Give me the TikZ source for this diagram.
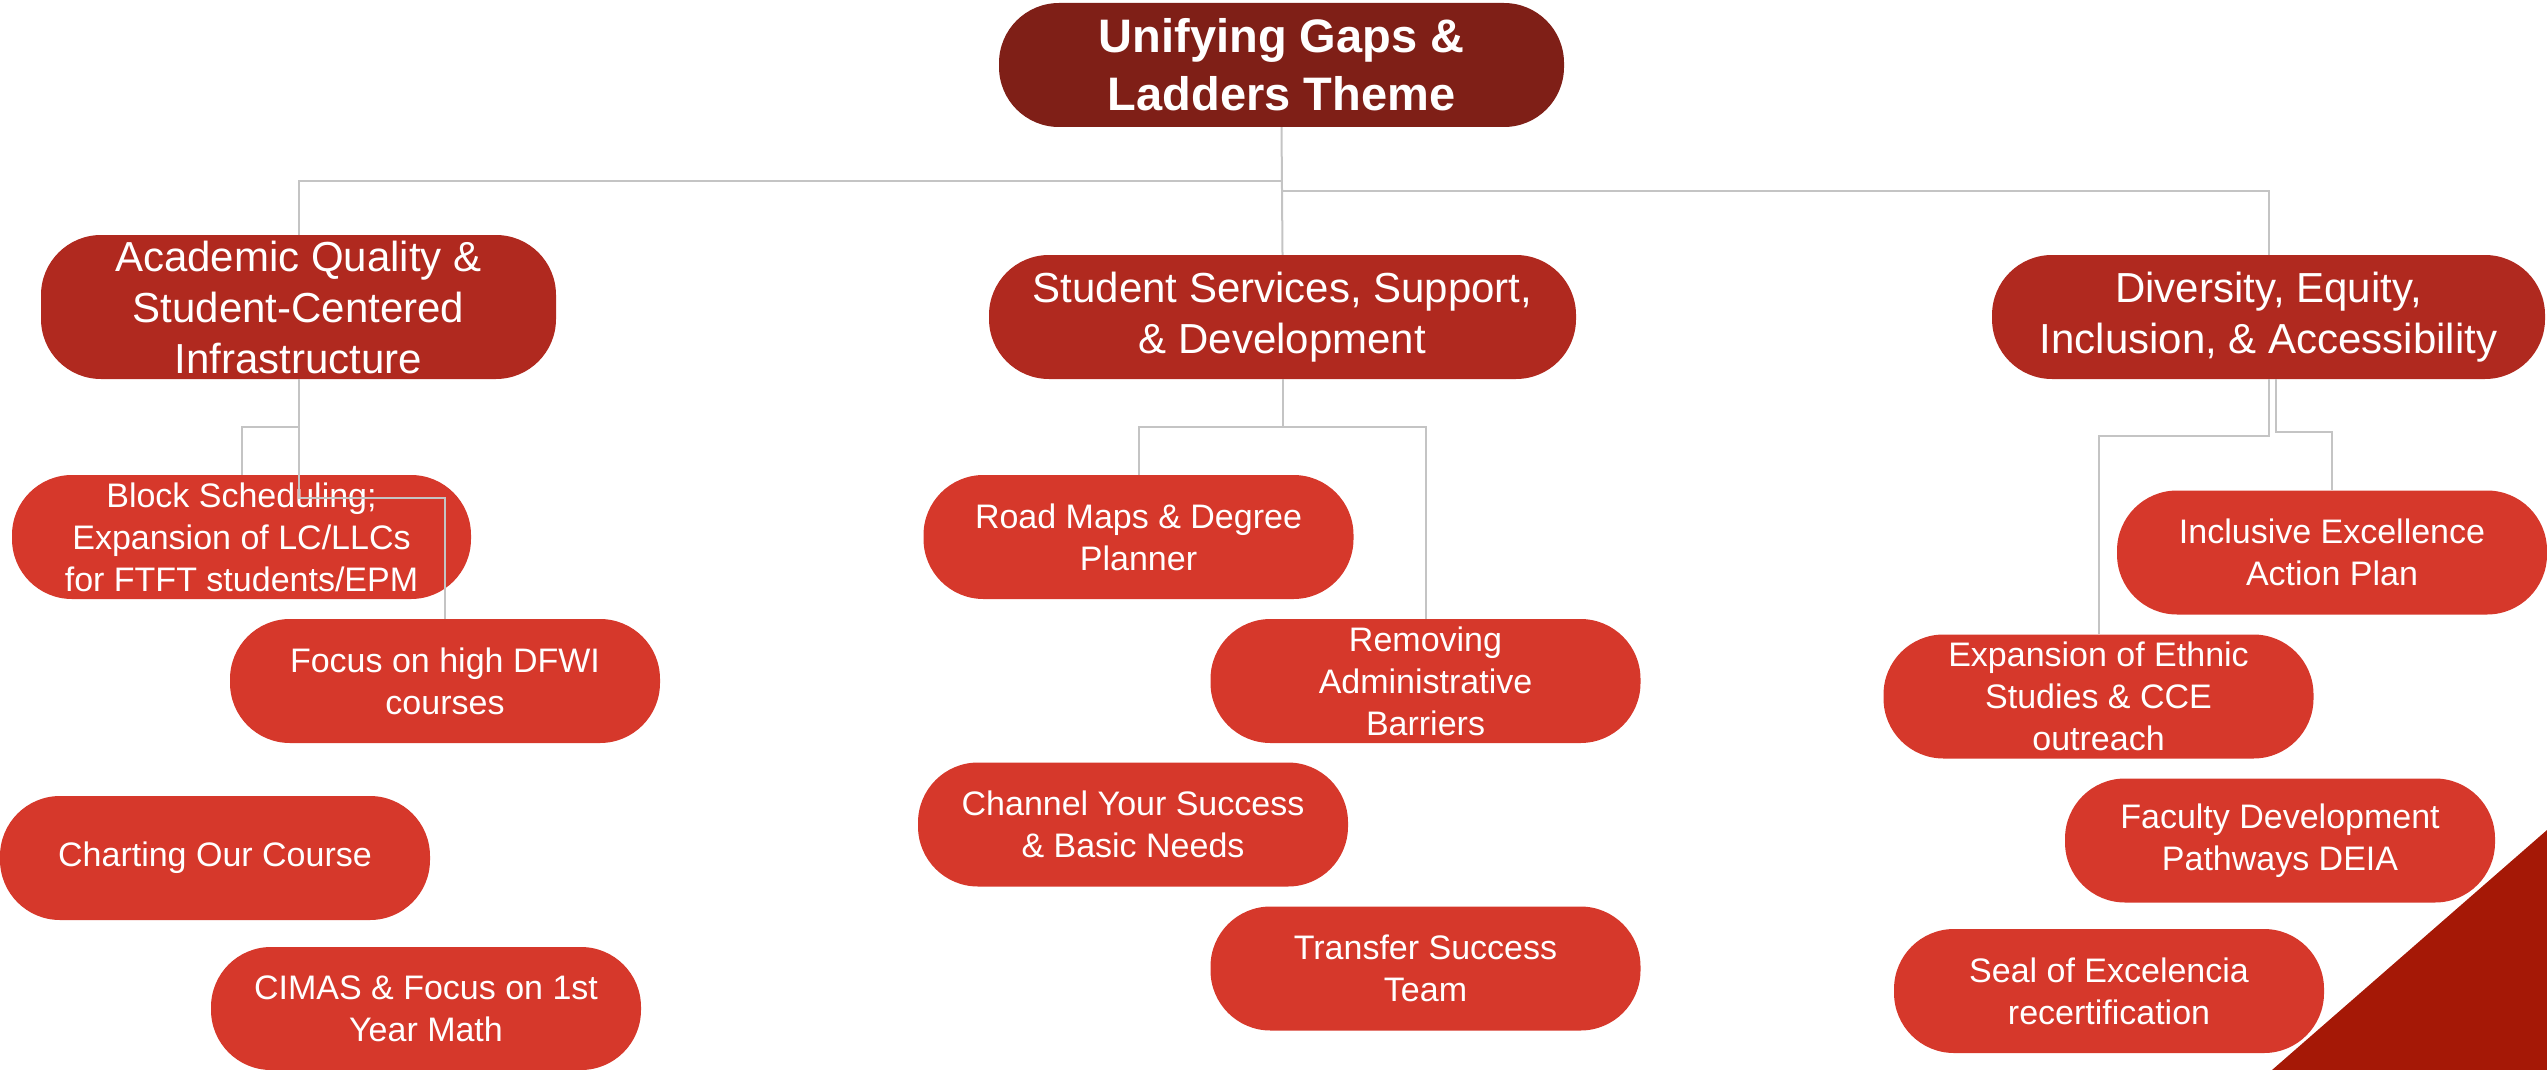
\documentclass[tikz,border=0pt]{standalone}
\usepackage{fontspec}
\setmainfont{Liberation Sans}
\definecolor{topred}{HTML}{7F1F17}
\definecolor{catred}{HTML}{B0291F}
\definecolor{itemred}{HTML}{D6382B}
\definecolor{cornerred}{HTML}{A51806}
\definecolor{conncol}{HTML}{C4C4C4}
\begin{document}
\begin{tikzpicture}[x=1pt,y=-1pt,
  box/.style={rounded corners=60pt, text=white, align=center, inner sep=0pt, minimum height=124pt},
  topbox/.style={box, fill=topred, minimum width=565pt, font=\fontsize{47}{58}\selectfont\bfseries},
  catbox/.style={box, fill=catred, font=\fontsize{42}{51}\selectfont},
  itembox/.style={box, fill=itemred, minimum width=430pt, font=\fontsize{34}{42}\selectfont},
  conn/.style={draw=conncol, line width=2pt}]
\useasboundingbox (0,0) rectangle (2547,1070);
\fill[cornerred] (2547,830) -- (2547,1070) -- (2272,1070) -- cycle;

\node[topbox] (top) at (1281.5,65) {Unifying Gaps \&\\Ladders Theme};

\node[catbox, minimum width=515pt, minimum height=144pt] (acad) at (298.5,307) {Academic Quality \&\\Student-Centered\\Infrastructure};
\node[catbox, minimum width=587pt] (ss) at (1282.5,317) {Student Services, Support,\\\& Development};
\node[catbox, minimum width=553pt] (div) at (2268.5,317) {Diversity, Equity,\\Inclusion, \& Accessibility};

\node[itembox, minimum width=459pt] (block) at (241.5,537) {Block Scheduling;\\Expansion of LC/LLCs\\for FTFT students/EPM};
\node[itembox] (focus) at (445,681) {Focus on high DFWI\\courses};
\node[itembox] (chart) at (215,858) {Charting Our Course};
\node[itembox, minimum height=123pt] (cimas) at (426,1008.5) {CIMAS \& Focus on 1st\\Year Math};

\node[itembox] (road) at (1138.5,537) {Road Maps \& Degree\\Planner};
\node[itembox] (remove) at (1425.5,681) {Removing\\Administrative\\Barriers};
\node[itembox] (channel) at (1133,824.5) {Channel Your Success\\\& Basic Needs};
\node[itembox] (transfer) at (1425.5,968.5) {Transfer Success\\Team};

\node[itembox] (incl) at (2332,552.5) {Inclusive Excellence\\Action Plan};
\node[itembox] (ethnic) at (2098.5,696.5) {Expansion of Ethnic\\Studies \& CCE\\outreach};
\node[itembox] (faculty) at (2280,840.5) {Faculty Development\\Pathways DEIA};
\node[itembox] (seal) at (2109,991) {Seal of Excelencia\\recertification};

\coordinate (y181) at (0,181);
\coordinate (y191) at (0,191);
\coordinate (y427) at (0,427);
\coordinate (y498) at (0,498);
\coordinate (y436) at (0,436);
\coordinate (y432) at (0,432);

\draw[conn] (top.south) -- (ss.north);
\draw[conn] (top.south |- y181) -| (acad.north);
\draw[conn] (top.south |- y191) -| (div.north);

\draw[conn] (acad.south) -- (acad.south |- y498) -| (focus.north);
\draw[conn] (acad.south |- y427) -| (block.north);

\draw[conn] (ss.south) -- (ss.south |- y427);
\draw[conn] (road.north) |- (remove.north |- y427) -- (remove.north);

\draw[conn] (div.south) |- (ethnic.north |- y436) -- (ethnic.north);
\draw[conn] ([xshift=7pt]div.south) |- (incl.north |- y432) -- (incl.north);
\end{tikzpicture}
\end{document}
